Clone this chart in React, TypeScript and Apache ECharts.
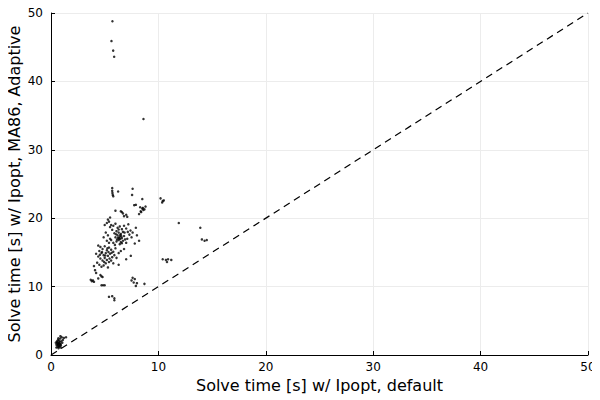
import React, { useEffect, useRef } from "react";
import * as echarts from "echarts";

const xTicks = [0, 10, 20, 30, 40, 50];
const yTicks = [0, 10, 20, 30, 40, 50];
const xName = "Solve time [s] w/ Ipopt, default";
const yName = "Solve time [s] w/ Ipopt, MA86, Adaptive";

const originCluster: number[][] = [
  [0.5, 1.5], [0.6, 1.7], [0.7, 1.4], [0.8, 1.9], [0.9, 1.6], [0.55, 2.0], [0.65, 2.2],
  [0.75, 2.1], [0.85, 2.4], [1.0, 2.6], [1.1, 2.2], [0.6, 1.2], [0.7, 1.0], [0.8, 1.3],
  [0.9, 1.1], [0.45, 1.8], [0.5, 1.1], [1.2, 2.5], [0.95, 2.0], [0.72, 1.75], [0.62, 1.45],
  [0.82, 1.55], [0.58, 1.85], [1.05, 1.8], [0.68, 2.45], [0.88, 2.75], [1.4, 2.6],
  [0.66, 1.62], [0.78, 1.68], [0.74, 1.22], [0.92, 1.4],
];

const outliers: number[][] = [
  [5.72, 48.8], [5.63, 45.9], [5.79, 44.5], [5.88, 43.6], [8.61, 34.5],
];

const upperGroup: number[][] = [
  [5.7, 24.4], [5.7, 24.0], [5.72, 23.7], [5.75, 23.4], [5.8, 23.2], [6.25, 23.9],
  [7.6, 24.3], [7.55, 23.4], [8.5, 22.8], [10.2, 22.9], [10.4, 22.5], [10.5, 22.6],
  [10.35, 22.3],
  [7.75, 21.9], [7.9, 21.95], [8.3, 21.6], [8.5, 21.4], [8.6, 21.2], [8.4, 20.9],
  [8.8, 21.7], [8.35, 21.0], [8.2, 20.6], [6.0, 21.1], [6.5, 21.0], [6.7, 20.7],
  [7.0, 20.5], [6.8, 20.3], [6.6, 20.9], [7.1, 20.2], [5.5, 20.1], [5.3, 19.8],
  [11.9, 19.3], [13.9, 18.6], [8.55, 21.5], [8.7, 21.3],
];

const midGroup: number[][] = [
  [5.0, 19.0], [5.2, 19.3], [5.4, 19.5], [5.6, 19.0], [5.5, 18.7], [5.8, 18.9], [6.0, 19.2],
  [6.2, 18.6], [6.4, 18.8], [6.6, 18.4], [6.8, 18.9], [7.0, 18.5], [7.2, 19.1], [7.4, 18.2],
  [7.3, 17.6], [7.6, 17.9], [7.9, 18.6], [7.5, 17.2], [6.1, 18.1], [6.3, 17.9], [6.5, 17.7],
  [6.2, 17.5], [6.4, 17.3], [6.6, 17.1], [6.8, 17.4], [6.9, 16.9], [6.3, 16.8], [6.0, 17.2],
  [5.9, 17.8], [5.7, 18.3], [6.5, 16.5], [6.7, 16.7], [6.1, 16.6], [7.1, 17.0], [7.0, 16.4],
  [6.4, 16.2], [5.8, 16.4], [5.6, 16.8], [5.3, 17.5], [5.1, 17.9], [4.9, 17.2], [5.5, 17.0],
  [6.35, 17.05], [6.55, 17.35], [6.25, 17.15], [6.45, 16.95], [6.15, 16.9], [7.8, 16.3],
  [8.2, 16.7], [8.0, 17.5], [14.05, 16.9], [14.3, 16.7], [14.5, 16.8],
  [6.05, 17.65], [6.3, 18.35], [6.7, 18.0], [6.45, 17.55], [6.6, 16.35], [5.95, 16.1],
  [5.4, 16.4], [5.2, 16.7], [6.85, 17.9], [7.15, 18.0],
];

const lowGroup: number[][] = [
  [4.4, 16.0], [4.6, 15.8], [4.8, 15.5], [5.0, 15.9], [5.2, 15.3], [5.4, 15.7], [5.6, 15.4],
  [5.8, 15.1], [6.0, 15.6], [4.5, 15.2], [4.7, 14.9], [4.9, 14.6], [5.1, 14.9], [5.3, 14.5],
  [5.5, 14.8], [5.7, 14.3], [5.9, 14.6], [6.1, 14.2], [4.2, 14.8], [4.4, 14.4], [4.6, 14.1],
  [4.8, 13.8], [5.0, 14.2], [5.2, 13.9], [5.4, 13.6], [5.6, 13.8], [5.8, 13.4], [4.3, 13.5],
  [4.5, 13.2], [4.7, 12.9], [4.9, 13.1], [5.1, 13.4], [5.3, 12.8], [6.3, 14.9], [6.5, 15.2],
  [6.8, 15.5], [7.43, 14.5], [7.0, 14.0], [4.0, 13.0], [4.1, 12.4], [6.3, 13.2],
  [10.4, 14.0], [10.7, 13.9], [10.9, 14.0], [11.2, 13.9], [10.8, 13.6],
  [4.75, 15.05], [5.25, 15.6], [5.45, 14.1], [5.65, 14.95], [4.95, 13.6], [4.55, 14.65],
  [5.05, 14.55], [5.35, 15.05],
];

const bottomGroup: number[][] = [
  [3.7, 11.0], [3.8, 10.8], [3.9, 10.9], [4.0, 10.7], [4.6, 11.7], [4.7, 11.5], [4.8, 11.4],
  [4.2, 12.0], [4.4, 11.2], [4.7, 10.2], [4.85, 10.2], [5.0, 10.2], [7.6, 11.3], [7.8, 11.1],
  [7.5, 10.9], [7.7, 10.6], [8.0, 10.5], [8.7, 10.4], [7.9, 10.1],
  [5.4, 8.5], [5.7, 8.6], [5.9, 8.3], [5.9, 8.0],
];

const diagonal: number[][] = [[0, 0], [50, 50]];

export default function App() {
  const ref = useRef<HTMLDivElement>(null);
  useEffect(() => {
    if (!ref.current) return;
    const chart = echarts.init(ref.current, null, { renderer: "svg" });
    const font = "DejaVu Sans";
    const points = [...originCluster, ...outliers, ...upperGroup, ...midGroup, ...lowGroup, ...bottomGroup];
    const axisCommon = {
      type: "value" as const,
      min: xTicks[0],
      max: xTicks[xTicks.length - 1],
      interval: 10,
      nameLocation: "middle" as const,
      nameMoveOverlap: false,
      nameTextStyle: { fontFamily: font, fontSize: 16, color: "#000" },
      axisLine: { show: true, onZero: false, lineStyle: { color: "#000", width: 1 } },
      axisTick: { show: true, inside: true, length: 4, lineStyle: { color: "#000" } },
      axisLabel: { fontFamily: font, fontSize: 12, color: "#000" },
      splitLine: { show: true, lineStyle: { color: "#ececec", width: 1 } },
    };
    chart.setOption({
      animation: false,
      backgroundColor: "#fff",
      grid: {
        left: 51, right: 12, top: 13, bottom: 45,
        containLabel: false, outerBoundsMode: "none",
      },
      xAxis: {
        ...axisCommon,
        name: xName,
        nameGap: 22,
        axisLabel: { ...axisCommon.axisLabel, margin: 6 },
      },
      yAxis: {
        ...axisCommon,
        min: yTicks[0],
        max: yTicks[yTicks.length - 1],
        name: yName,
        nameGap: 29,
        axisLabel: { ...axisCommon.axisLabel, margin: 8 },
      },
      series: [
        {
          type: "line",
          data: diagonal,
          symbol: "none",
          lineStyle: { color: "#000", width: 1.2, type: [7, 5] },
          silent: true,
        },
        {
          type: "scatter",
          data: points,
          symbol: "circle",
          symbolSize: 2.5,
          itemStyle: { color: "#000" },
        },
      ],
    });
    return () => chart.dispose();
  }, []);
  return <div ref={ref} style={{ width: 600, height: 400, marginLeft: -8, marginTop: -8 }} />;
}
